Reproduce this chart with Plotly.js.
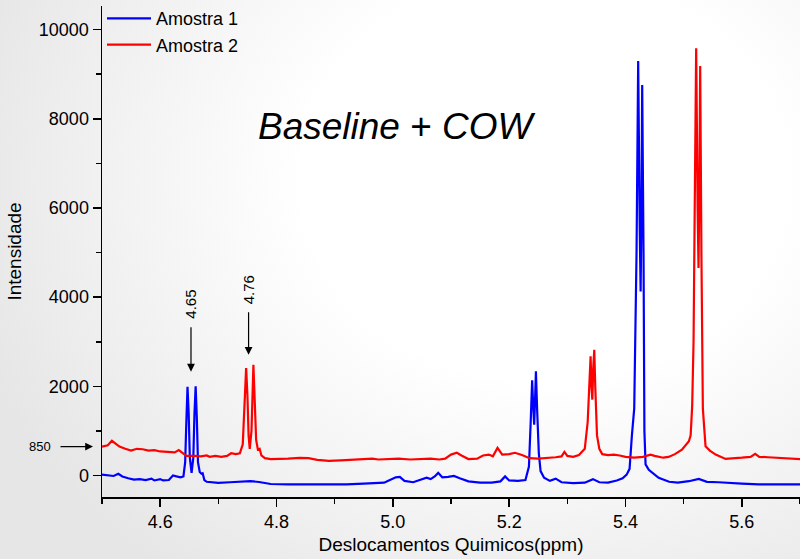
<!DOCTYPE html>
<html>
<head>
<meta charset="utf-8">
<script src="https://cdn.plot.ly/plotly-3.0.1.min.js"></script>
<style>
html, body { margin: 0; padding: 0; }
body {
  width: 800px; height: 559px; overflow: hidden;
  background: radial-gradient(ellipse 75% 90% at 68% 32%, #ffffff 40%, #e6e6e6 100%);
}
#chart { width: 800px; height: 559px; }
</style>
</head>
<body>
<div id="chart"></div>
<script>
// ---- Data ----
const seriesNames = ["Amostra 1", "Amostra 2"];

const amostra1X = [4.500,4.510,4.520,4.528,4.535,4.545,4.555,4.565,4.575,4.585,4.590,4.600,4.605,4.615,4.622,4.628,4.635,4.640,
  4.643,4.645,4.647,4.649,4.651,4.654,4.657,4.659,4.661,4.663,4.665,4.668,4.671,4.673,4.676,4.680,4.690,4.700,4.720,4.740,4.755,
  4.770,4.790,4.820,4.850,4.880,4.900,4.920,4.950,4.970,4.985,4.995,5.005,5.012,5.020,5.035,5.050,5.058,5.065,5.072,5.078,5.085,
  5.095,5.105,5.115,5.130,5.150,5.170,5.185,5.193,5.200,5.215,5.228,5.234,5.237,5.2395,5.2415,5.2430,5.2445,5.2460,5.2480,5.2510,
  5.2540,5.2600,5.2700,5.2800,5.2900,5.3100,5.3300,5.3440,5.3550,5.3700,5.3850,5.3950,5.4020,5.4070,5.4110,5.4150,5.4190,5.4218,
  5.4245,5.4260,5.4275,5.4287,5.4310,5.4325,5.4345,5.4400,5.4570,5.4750,5.4900,5.5090,5.5260,5.5400,5.5600,5.5800,5.6000,5.6290,
  5.6600,5.7000];
const amostra1Y = [20,10,-10,40,-20,-60,-90,-80,-100,-70,-110,-80,-110,-100,0,-20,-40,-20,
  300,1200,1990,1400,400,60,400,1400,2000,1300,300,80,40,50,-100,-140,-160,-165,-150,-130,-125,
  -145,-190,-200,-200,-195,-190,-200,-180,-170,-160,-100,-40,-30,-120,-150,-80,-50,-80,-20,60,-40,
  -30,-10,-60,-130,-160,-160,-130,-20,-110,-120,-100,200,1200,2135,1500,1140,1700,2336,1500,500,
  100,-50,-120,-70,-150,-170,-160,-80,-150,-160,-110,-60,20,150,900,1500,5000,9296,
  5500,4128,6000,8758,5000,1000,250,130,-50,-140,-160,-127,-75,-140,-150,-170,-180,-200,
  -200,-200];

const amostra2X = [4.500,4.510,4.517,4.522,4.530,4.540,4.550,4.560,4.570,4.580,4.590,4.600,4.615,4.625,4.632,4.638,4.645,4.660,
  4.670,4.680,4.685,4.695,4.705,4.715,4.722,4.730,4.737,4.742,4.745,4.7478,4.750,4.752,4.754,4.757,4.7603,4.7625,4.765,4.768,4.771,
  4.774,4.780,4.790,4.800,4.820,4.840,4.855,4.870,4.890,4.910,4.930,4.950,4.965,4.975,4.990,5.010,5.030,5.045,5.055,5.065,5.080,
  5.090,5.100,5.110,5.118,5.130,5.145,5.155,5.165,5.172,5.180,5.188,5.200,5.210,5.222,5.235,5.250,5.265,5.280,5.290,5.295,5.300,
  5.310,5.320,5.330,5.335,5.338,5.340,5.3415,5.3430,5.3445,5.3463,5.3480,5.3510,5.3550,5.3600,5.3700,5.3800,5.3900,5.4000,5.4150,
  5.4300,5.4430,5.4500,5.4650,5.4740,5.4850,5.4970,5.5090,5.5120,5.5146,5.5170,5.5190,5.5215,5.5240,5.5255,5.5270,5.5284,5.5305,
  5.5330,5.5376,5.5450,5.5550,5.5720,5.6000,5.6150,5.6230,5.6300,5.6450,5.6600,5.6800,5.7000];
const amostra2Y = [650,680,780,730,650,600,560,600,590,560,570,540,530,520,570,500,440,440,
  430,450,420,440,420,440,500,480,500,700,1500,2410,1800,900,600,1000,2486,1600,800,580,600,
  450,390,370,370,380,395,390,350,330,340,350,370,380,360,370,380,360,370,390,380,360,
  380,470,510,450,370,380,450,470,430,620,470,480,510,460,390,380,390,410,430,530,440,
  420,460,600,1200,2300,2673,2000,1702,2400,2822,2000,900,600,480,460,470,450,420,400,
  420,470,440,400,418,480,582,768,900,1550,3000,6000,9580,6000,4652,6500,9184,5000,
  1500,656,560,470,373,400,420,486,420,410,400,390,370];

const xTickVals = [4.6, 4.8, 5.0, 5.2, 5.4, 5.6];
const xTickText = ["4.6", "4.8", "5.0", "5.2", "5.4", "5.6"];
const yTickVals = [0, 2000, 4000, 6000, 8000, 10000];
const yTickText = ["0", "2000", "4000", "6000", "8000", "10000"];

// ---- Chart ----
const font = "'Liberation Sans', Arial, Helvetica, sans-serif";

const traces = [
  { x: amostra1X, y: amostra1Y, name: seriesNames[0], type: "scatter", mode: "lines",
    line: { color: "#0000ff", width: 2.2 } },
  { x: amostra2X, y: amostra2Y, name: seriesNames[1], type: "scatter", mode: "lines",
    line: { color: "#ff0000", width: 2.2 } }
];

const layout = {
  width: 800, height: 559,
  margin: { l: 102, r: 0, t: 6, b: 62 },
  paper_bgcolor: "rgba(0,0,0,0)",
  plot_bgcolor: "rgba(0,0,0,0)",
  font: { family: font, size: 18, color: "#000" },
  showlegend: true,
  legend: { x: 0, y: 1.012, xanchor: "left", yanchor: "top", bgcolor: "rgba(0,0,0,0)",
    font: { family: font, size: 18, color: "#000" }, itemwidth: 44, tracegroupgap: 0 },
  xaxis: {
    range: [4.5, 5.7],
    tickvals: xTickVals, ticktext: xTickText,
    ticks: "outside", ticklen: 8, tickwidth: 1.5, tickcolor: "#000",
    minor: { dtick: 0.1, tick0: 4.5, ticks: "outside", ticklen: 5, tickwidth: 1.5, tickcolor: "#000" },
    showline: true, linecolor: "#000", linewidth: 1.5,
    showgrid: false, zeroline: false,
    tickfont: { family: font, size: 18 },
    title: { text: "Deslocamentos Quimicos(ppm)", font: { family: font, size: 19 }, standoff: 6 }
  },
  yaxis: {
    range: [-481, 10528],
    tickvals: yTickVals, ticktext: yTickText,
    ticks: "outside", ticklen: 8, tickwidth: 1.5, tickcolor: "#000",
    minor: { dtick: 1000, tick0: 0, ticks: "outside", ticklen: 5, tickwidth: 1.5, tickcolor: "#000" },
    showline: true, linecolor: "#000", linewidth: 1.5,
    showgrid: false, zeroline: false,
    tickfont: { family: font, size: 18 },
    title: { text: "Intensidade", font: { family: font, size: 19 }, standoff: 12 }
  },
  annotations: [
    { text: "<i>Baseline</i> + <i>COW</i>", xref: "paper", yref: "y", x: 0.4226, y: 7818,
      xanchor: "center", yanchor: "middle",
      showarrow: false, font: { family: font, size: 37, color: "#000" } },
    // 4.65 marker
    { text: "", xref: "x", yref: "y", x: 4.653, y: 2330, showarrow: true, ax: 0, ay: -46,
      arrowhead: 2, arrowsize: 1.3, arrowwidth: 1.2, arrowcolor: "#000" },
    { text: "4.65", xref: "x", yref: "y", x: 4.653, y: (476 - 304) * 22.4, textangle: -90,
      xanchor: "center", yanchor: "middle",
      showarrow: false, font: { family: font, size: 15, color: "#000" } },
    // 4.76 marker
    { text: "", xref: "x", yref: "y", x: 4.752, y: 2710, showarrow: true, ax: 0, ay: -44,
      arrowhead: 2, arrowsize: 1.3, arrowwidth: 1.2, arrowcolor: "#000" },
    { text: "4.76", xref: "x", yref: "y", x: 4.752, y: (476 - 290) * 22.4, textangle: -90,
      xanchor: "center", yanchor: "middle",
      showarrow: false, font: { family: font, size: 15, color: "#000" } },
    // 850 marker
    { text: "", xref: "paper", yref: "y", x: -0.0129, y: 650, showarrow: true, ax: -34, ay: 0,
      arrowhead: 2, arrowsize: 1.3, arrowwidth: 1.2, arrowcolor: "#000" },
    { text: "850", xref: "paper", yref: "y", x: (40 - 102) / 698, y: 650,
      xanchor: "center", yanchor: "middle",
      showarrow: false, font: { family: font, size: 13, color: "#000" } }
  ]
};

Plotly.newPlot("chart", traces, layout, { displayModeBar: false, staticPlot: true });
</script>
</body>
</html>
